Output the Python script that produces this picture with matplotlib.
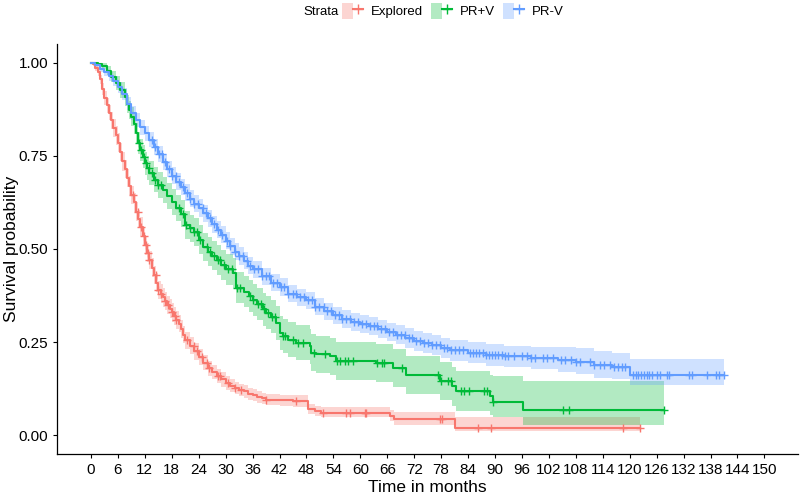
import numpy as np
import matplotlib
matplotlib.use("Agg")
import matplotlib.pyplot as plt
from matplotlib.patches import Patch
from matplotlib.lines import Line2D
from matplotlib.legend_handler import HandlerTuple

plt.rcParams['font.family'] = ['Liberation Sans', 'DejaVu Sans']

# Explored
red_t = [0, 0.5, 1, 1.5, 2, 2.5, 3, 3.5, 4, 4.5, 5, 5.5, 6, 6.5, 7, 7.5, 8, 8.5, 9, 9.5,
         10, 10.5, 11, 11.5, 12, 12.5, 13, 13.5, 14, 14.5, 15, 15.5, 16, 16.5, 17, 17.5,
         18, 18.5, 19, 19.5, 20, 20.5, 21, 22, 23, 24, 25, 26, 27, 28, 29, 30, 31, 32, 33,
         34, 35, 36, 37, 38, 39, 42, 45, 48.3, 50, 51.3, 66.5, 67.5, 81, 122.4]
red_s = [1.0, 0.995, 0.985, 0.975, 0.955, 0.93, 0.905, 0.885, 0.865, 0.845, 0.825, 0.805,
         0.785, 0.76, 0.735, 0.715, 0.69, 0.67, 0.645, 0.625, 0.60, 0.58, 0.56, 0.535, 0.51,
         0.49, 0.47, 0.45, 0.43, 0.41, 0.39, 0.38, 0.37, 0.36, 0.35, 0.34, 0.33, 0.32, 0.31,
         0.30, 0.285, 0.27, 0.255, 0.24, 0.225, 0.21, 0.195, 0.18, 0.17, 0.16, 0.15, 0.14,
         0.133, 0.127, 0.122, 0.118, 0.112, 0.108, 0.103, 0.099, 0.096, 0.094, 0.092, 0.070,
         0.065, 0.061, 0.052, 0.043, 0.021, 0.021]
red_lo = [1.0, 0.99, 0.977, 0.965, 0.942, 0.914, 0.887, 0.866, 0.845, 0.823, 0.801, 0.78,
          0.76, 0.735, 0.71, 0.69, 0.665, 0.645, 0.62, 0.60, 0.575, 0.555, 0.535, 0.51, 0.485,
          0.465, 0.445, 0.425, 0.405, 0.385, 0.365, 0.355, 0.345, 0.335, 0.325, 0.315, 0.305,
          0.296, 0.286, 0.276, 0.261, 0.247, 0.232, 0.217, 0.203, 0.188, 0.174, 0.16, 0.15,
          0.141, 0.131, 0.122, 0.115, 0.11, 0.105, 0.101, 0.096, 0.092, 0.087, 0.084, 0.081,
          0.079, 0.077, 0.056, 0.052, 0.048, 0.038, 0.028, 0.012, 0.012]
red_hi = [1.0, 1.0, 0.993, 0.985, 0.968, 0.946, 0.923, 0.904, 0.885, 0.867, 0.849, 0.83,
          0.81, 0.785, 0.76, 0.74, 0.715, 0.695, 0.67, 0.65, 0.625, 0.605, 0.585, 0.56, 0.535,
          0.515, 0.495, 0.475, 0.455, 0.435, 0.415, 0.405, 0.395, 0.385, 0.375, 0.365, 0.355,
          0.344, 0.334, 0.324, 0.309, 0.293, 0.278, 0.263, 0.247, 0.232, 0.216, 0.20, 0.19,
          0.179, 0.169, 0.158, 0.151, 0.144, 0.139, 0.135, 0.128, 0.124, 0.119, 0.114, 0.111,
          0.109, 0.107, 0.085, 0.080, 0.076, 0.068, 0.062, 0.048, 0.048]
red_cens = [9.3, 10.4, 11.2, 11.9, 12.3, 12.6, 13.0, 14.4, 15.0, 15.5, 16.5, 17.2, 18.0,
            18.7, 19.0, 21.4, 22.9, 23.6, 24.8, 25.8, 26.2, 28.3, 28.7, 30.5, 32.0, 33.5,
            39.0, 45.7, 51.7, 56.9, 57.6, 61.0, 61.3, 77.7, 78.3, 86.2, 89.2, 118.5, 122.4]

# PR+V
green_t = [0, 1.5, 2.5, 3.5, 4.5, 5.5, 6.5, 7.5, 8, 8.5, 9, 9.5, 10, 10.5, 11, 11.5, 12,
           12.5, 13, 14, 15, 16, 17, 18, 19, 20, 21, 22, 23, 24, 25, 26, 27, 28, 29, 30,
           31.6, 32.4, 34, 35.3, 36.1, 37, 38.3, 39, 40, 41.3, 42, 42.7, 44, 45.7, 48.7,
           49.1, 50.2, 53.2, 54.6, 63.6, 67.3, 70.2, 77.7, 80.5, 81.4, 88.8, 89.5, 96.2, 127.7]
green_s = [1.0, 0.997, 0.99, 0.978, 0.962, 0.945, 0.927, 0.907, 0.89, 0.873, 0.855, 0.835,
           0.81, 0.785, 0.765, 0.748, 0.73, 0.717, 0.704, 0.686, 0.672, 0.658, 0.642, 0.625,
           0.61, 0.595, 0.565, 0.555, 0.545, 0.525, 0.505, 0.493, 0.482, 0.471, 0.458, 0.445,
           0.436, 0.396, 0.385, 0.373, 0.364, 0.352, 0.338, 0.329, 0.318, 0.302, 0.275, 0.266,
           0.257, 0.248, 0.239, 0.222, 0.217, 0.212, 0.199, 0.195, 0.181, 0.163, 0.145, 0.132,
           0.119, 0.105, 0.09, 0.068, 0.068]
green_lo = [1.0, 0.992, 0.982, 0.966, 0.947, 0.927, 0.906, 0.884, 0.866, 0.848, 0.829, 0.808,
            0.782, 0.756, 0.735, 0.717, 0.699, 0.685, 0.672, 0.653, 0.638, 0.624, 0.607, 0.59,
            0.574, 0.559, 0.528, 0.518, 0.507, 0.487, 0.467, 0.454, 0.443, 0.431, 0.418, 0.404,
            0.395, 0.354, 0.343, 0.33, 0.321, 0.309, 0.294, 0.285, 0.274, 0.257, 0.23, 0.221,
            0.211, 0.201, 0.192, 0.172, 0.167, 0.162, 0.148, 0.144, 0.13, 0.112, 0.094, 0.08,
            0.066, 0.055, 0.05, 0.029, 0.029]
green_hi = [1.0, 1.0, 0.998, 0.99, 0.977, 0.963, 0.948, 0.93, 0.914, 0.898, 0.881, 0.862,
            0.838, 0.814, 0.795, 0.779, 0.761, 0.749, 0.736, 0.719, 0.706, 0.692, 0.677, 0.66,
            0.646, 0.631, 0.602, 0.592, 0.583, 0.563, 0.543, 0.532, 0.521, 0.511, 0.498, 0.486,
            0.477, 0.438, 0.427, 0.416, 0.407, 0.395, 0.382, 0.373, 0.362, 0.347, 0.32, 0.311,
            0.303, 0.295, 0.286, 0.272, 0.267, 0.262, 0.25, 0.246, 0.232, 0.214, 0.196, 0.184,
            0.172, 0.162, 0.158, 0.147, 0.147]
green_cens = [10.6, 11.2, 11.8, 12.3, 12.9, 13.6, 14.3, 15.0, 15.5, 19.7, 20.6, 21.2, 22.0,
              23.0, 23.6, 24.3, 25.8, 26.6, 27.5, 28.2, 28.8, 29.6, 30.5, 31.4, 32.6, 33.3,
              35.5, 36.1, 37.2, 37.9, 38.6, 39.5, 40.3, 41.0, 42.8, 43.2, 45.1, 46.2, 47.3,
              49.6, 52.2, 54.8, 55.5, 56.6, 57.3, 58.4, 63.8, 64.9, 65.3, 69.2, 77.2, 78.0,
              79.5, 80.3, 82.4, 83.2, 84.1, 87.6, 88.2, 89.5, 105.2, 106.4, 127.7]

# PR-V
blue_t = [0, 1, 2, 3, 4, 5, 6, 7, 8, 9, 10, 11, 12, 13, 14, 15, 16, 17, 18, 19, 20, 21, 22,
          23, 24, 25, 26, 27, 28, 29, 30, 31, 32, 33, 34, 35, 36, 38, 40, 42, 44, 46, 48, 50,
          52, 54, 56, 58, 60, 62, 64, 66, 68, 70, 72, 74, 76, 78, 80, 84, 88, 92, 98, 104,
          108, 112, 116, 120, 141.0]
blue_s = [1.0, 0.993, 0.984, 0.974, 0.963, 0.95, 0.934, 0.915, 0.89, 0.865, 0.845, 0.826,
          0.81, 0.793, 0.773, 0.754, 0.734, 0.714, 0.697, 0.681, 0.666, 0.651, 0.635, 0.622,
          0.61, 0.596, 0.582, 0.566, 0.552, 0.538, 0.522, 0.507, 0.493, 0.481, 0.468, 0.455,
          0.445, 0.427, 0.409, 0.398, 0.38, 0.37, 0.362, 0.345, 0.333, 0.322, 0.312, 0.305,
          0.299, 0.293, 0.285, 0.277, 0.27, 0.261, 0.253, 0.248, 0.242, 0.235, 0.228, 0.222,
          0.216, 0.212, 0.207, 0.202, 0.197, 0.188, 0.183, 0.163, 0.163]
blue_lo = [1.0, 0.988, 0.976, 0.964, 0.951, 0.937, 0.919, 0.899, 0.873, 0.847, 0.826, 0.807,
           0.79, 0.773, 0.752, 0.733, 0.713, 0.692, 0.675, 0.659, 0.644, 0.629, 0.612, 0.599,
           0.587, 0.573, 0.559, 0.543, 0.529, 0.515, 0.499, 0.484, 0.47, 0.458, 0.445, 0.432,
           0.422, 0.404, 0.386, 0.375, 0.357, 0.347, 0.339, 0.322, 0.31, 0.299, 0.288, 0.281,
           0.275, 0.269, 0.26, 0.252, 0.245, 0.235, 0.227, 0.221, 0.215, 0.208, 0.2, 0.194,
           0.187, 0.183, 0.177, 0.171, 0.165, 0.155, 0.15, 0.134, 0.134]
blue_hi = [1.0, 0.998, 0.992, 0.984, 0.975, 0.963, 0.949, 0.931, 0.907, 0.883, 0.864, 0.845,
           0.83, 0.813, 0.794, 0.775, 0.755, 0.736, 0.719, 0.703, 0.688, 0.673, 0.658, 0.645,
           0.633, 0.619, 0.605, 0.589, 0.575, 0.561, 0.545, 0.53, 0.516, 0.504, 0.491, 0.478,
           0.468, 0.45, 0.432, 0.421, 0.403, 0.393, 0.385, 0.368, 0.356, 0.345, 0.336, 0.329,
           0.323, 0.317, 0.31, 0.302, 0.295, 0.287, 0.279, 0.275, 0.269, 0.262, 0.256, 0.25,
           0.245, 0.241, 0.237, 0.236, 0.233, 0.225, 0.22, 0.204, 0.204]
blue_cens = [13.5, 14.2, 15.1, 15.8, 16.6, 17.3, 18.0, 18.9, 19.6, 20.4, 21.3, 22.1, 23.0,
             23.8, 24.9, 25.6, 26.5, 27.4, 28.3, 29.1, 30.2, 31.0, 32.1, 33.0, 33.8, 34.7,
             35.5, 36.4, 37.2, 38.0, 38.9, 39.7, 40.6, 41.5, 42.3, 43.1, 44.0, 44.9, 45.7,
             46.6, 47.5, 48.3, 49.2, 50.0, 50.9, 51.8, 52.6, 53.5, 54.3, 55.2, 56.0, 56.9,
             57.8, 58.6, 59.5, 60.4, 61.2, 62.1, 63.0, 63.8, 64.7, 65.6, 66.4, 67.3, 68.2,
             69.0, 69.9, 70.8, 71.6, 72.5, 73.4, 74.2, 75.1, 76.0, 76.8, 77.7, 78.6, 79.4,
             80.3, 81.1, 82.0, 82.9, 84.5, 85.2, 85.8, 86.5, 87.3, 88.0, 88.6, 89.4, 90.0,
             90.7, 91.5, 92.3, 93.0, 94.3, 96.0, 97.2, 98.0, 98.9, 100.6, 101.5, 103.0,
             104.8, 105.6, 106.9, 108.1, 109.0, 111.2, 112.0, 113.4, 114.3, 115.7, 116.6,
             117.4, 118.3, 119.0, 120.8, 121.3, 121.9, 122.5, 123.1, 123.8, 124.3, 125.0,
             126.1, 126.8, 128.4, 128.8, 133.2, 133.8, 137.3, 139.2, 139.9, 141.0]

labels = ["Explored", "PR+V", "PR-V"]
colors = ["#F8766D", "#00BA38", "#619CFF"]
groups = [(red_t, red_s, red_lo, red_hi, red_cens),
          (green_t, green_s, green_lo, green_hi, green_cens),
          (blue_t, blue_s, blue_lo, blue_hi, blue_cens)]

fig = plt.figure(figsize=(8, 4.94), dpi=100)
ax = fig.add_axes([0.0716, 0.081, 0.926, 0.83])

# confidence bands first, then curves and censor marks
for (t, s, lo, hi, cens), c in zip(groups, colors):
    ax.fill_between(t, lo, hi, step='post', color=c, alpha=0.3, linewidth=0)
for (t, s, lo, hi, cens), c in zip(groups, colors):
    t = np.array(t)
    s = np.array(s)
    ax.step(t, s, where='post', color=c, lw=1.5)
    idx = np.searchsorted(t, cens, side='right') - 1
    ax.plot(cens, s[idx], ls='none', marker='+', ms=6, mew=1, color=c)

ax.set_xlim(-7.5, 157.5)
ax.set_ylim(-0.05, 1.05)
ax.set_xticks(range(0, 151, 6))
ax.set_yticks([0, 0.25, 0.5, 0.75, 1.0])
ax.set_yticklabels(["0.00", "0.25", "0.50", "0.75", "1.00"])
ax.tick_params(labelsize=11, length=3, width=0.8, colors='black')
for side in ['top', 'right']:
    ax.spines[side].set_visible(False)
for side in ['left', 'bottom']:
    ax.spines[side].set_linewidth(0.9)
ax.set_xlabel("Time in months", fontsize=12.5, labelpad=2)
ax.set_ylabel("Survival probability", fontsize=12.5)
ax.yaxis.set_label_coords(-0.051, 0.5)

handles = [(Patch(facecolor=c, alpha=0.3, edgecolor='none'),
            Line2D([], [], color=c, lw=1.5, marker='+', ms=7, mew=1)) for c in colors]
fig.text(303 / 800, 1 - 12 / 494, "Strata", fontsize=9.5, ha='left', va='center')
fig.legend(handles, labels, handler_map={tuple: HandlerTuple(ndivide=None, pad=0)},
           loc='center left', bbox_to_anchor=(342 / 800, 1 - 11 / 494), ncol=3,
           frameon=False, fontsize=9.5, handlelength=1.6, handleheight=1.6,
           handletextpad=0.6, columnspacing=0.6, borderpad=0, borderaxespad=0)

fig.savefig("out.png", dpi=100)
